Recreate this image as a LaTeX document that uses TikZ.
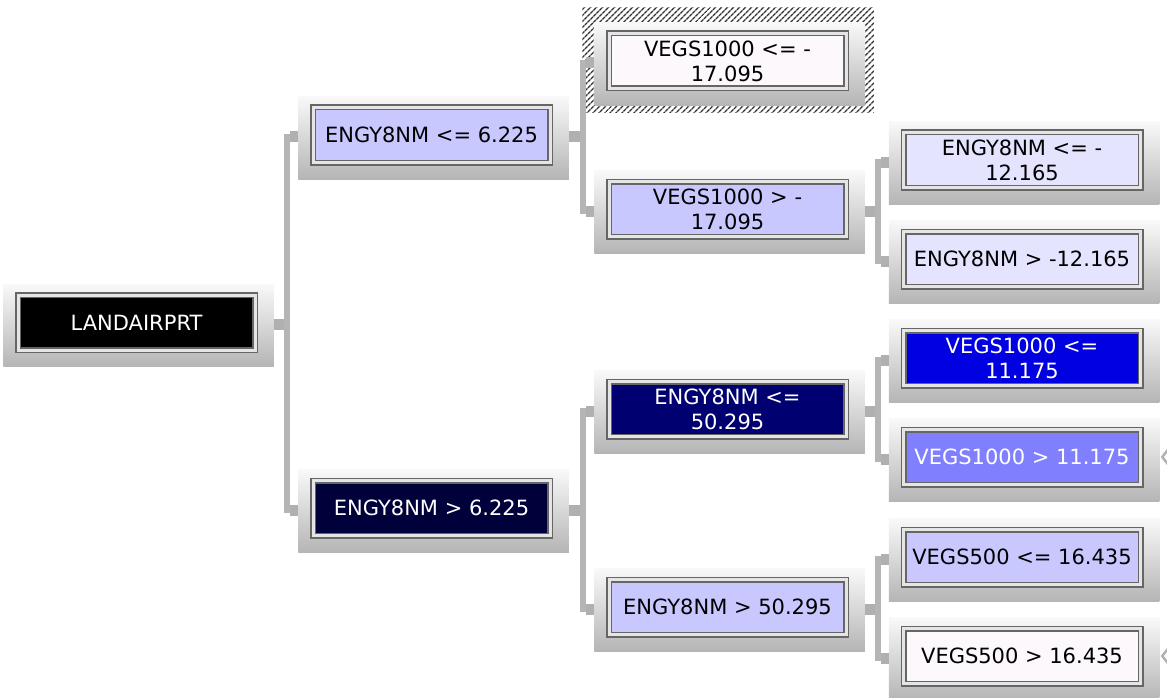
\documentclass[tikz,border=0pt]{standalone}
\usepackage{fontspec}
\setmainfont{DejaVu Sans}
\usepackage{tikz}
\usetikzlibrary{calc, backgrounds, patterns.meta}
\definecolor{dtLav}{HTML}{C8C8FF}
\definecolor{dtLavLight}{HTML}{E4E4FF}
\definecolor{dtNavy}{HTML}{00003A}
\definecolor{dtNavyMid}{HTML}{000070}
\definecolor{dtBlue}{HTML}{0000E0}
\definecolor{dtPeri}{HTML}{8080FF}
\definecolor{dtPale}{HTML}{FCF8FC}

\begin{document}
\begin{tikzpicture}[
  x=1pt, y=-1pt,
  font=\fontsize{21}{25}\selectfont,
  cell/.style={draw=black!60, double=gray!20, double distance=3pt, line width=1.5pt,
               minimum width=237pt, minimum height=55pt, inner sep=0pt, align=center},
  frame/.style={top color=gray!5, bottom color=gray!58, draw=none},
  bar/.style={draw=gray!58, line width=6pt, line cap=rect},
  stub/.style={draw=gray!62, line width=11pt},
  chev/.style={draw=gray!60, line width=2.5pt},
]
\useasboundingbox (0,0) rectangle (1167,698);

% ---- root ----
\node[cell, fill=black, text=white] (root) at (136.5,322.5) {LANDAIRPRT};

% ---- level 1 ----
\node[cell, fill=dtLav] (engyA) at (431.5,135) {ENGY8NM <= 6.225};
\node[cell, fill=dtNavy, text=white] (engyB) at (431.5,508) {ENGY8NM > 6.225};

% ---- level 2 ----
\node[cell, fill=dtPale] (vegsA) at (727.5,61) {VEGS1000 <= -\\17.095};
\node[cell, fill=dtLav] (vegsB) at (727.5,209) {VEGS1000 > -\\17.095};
\node[cell, fill=dtNavyMid, text=white] (engyC) at (727.5,409) {ENGY8NM <=\\50.295};
\node[cell, fill=dtLav] (engyD) at (727.5,607) {ENGY8NM > 50.295};

% ---- level 3 ----
\node[cell, fill=dtLavLight] (engyE) at (1022,160) {ENGY8NM <= -\\12.165};
\node[cell, fill=dtLavLight] (engyF) at (1022,259) {ENGY8NM > -12.165};
\node[cell, fill=dtBlue, text=white] (vegsC) at (1022,358) {VEGS1000 <=\\11.175};
\node[cell, fill=dtPeri, text=white] (vegsD) at (1022,457) {VEGS1000 > 11.175};
\node[cell, fill=dtLav] (vegsE) at (1022,557) {VEGS500 <= 16.435};
\node[cell, fill=dtPale] (vegsF) at (1022,656) {VEGS500 > 16.435};

% ---- frames (and the selected node) ----
\begin{scope}[on background layer]
  \fill[pattern={Lines[angle=45, distance=4pt, line width=1.4pt]}, pattern color=black!80]
    ($(vegsA.north west)+(-26,-25)$) rectangle ($(vegsA.south east)+(27,23)$);
  \foreach \n in {root, engyA, engyB, vegsA, vegsB, engyC, engyD, engyE, engyF, vegsC, vegsD, vegsE, vegsF}
    \shade[frame] ($(\n.north west)+(-14,-10)$) rectangle ($(\n.south east)+(18,16)$);
\end{scope}

% ---- connectors ----
\foreach \p/\c in {root/engyA, root/engyB, engyA/vegsA, engyA/vegsB, engyB/engyC, engyB/engyD,
                   vegsB/engyE, vegsB/engyF, engyC/vegsC, engyC/vegsD, engyD/vegsE, engyD/vegsF} {
  \coordinate (j) at ($(\p.east)!0.5!(\c.west)+(3,0)$);
  \draw[bar] ($(j |- \p.east)+(0,2)$) -- ($(j |- \c.west)+(0,2)$);
  \draw[stub] ($(\p.east)+(18,2)$) -- ($(j |- \p.east)+(-3,2)$);
  \draw[stub] ($(j |- \c.west)+(3,2)$) -- ($(\c.west)+(-14,2)$);
}

% right-hand markers
\draw[chev] ($(vegsD.east)+(28,-9)$) -- ($(vegsD.east)+(21,0)$) -- ($(vegsD.east)+(28,9)$);
\draw[chev] ($(vegsF.east)+(28,-9)$) -- ($(vegsF.east)+(21,0)$) -- ($(vegsF.east)+(28,9)$);
\end{tikzpicture}
\end{document}
